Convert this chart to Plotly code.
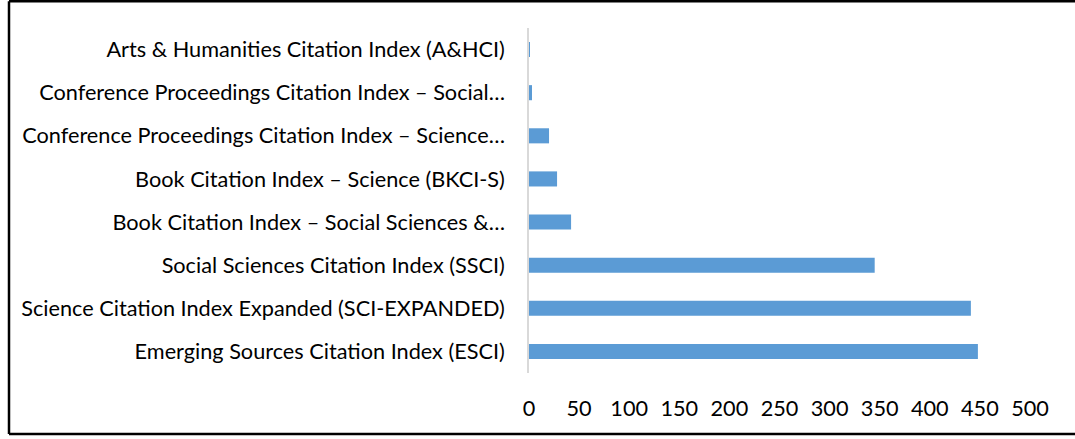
import plotly.graph_objects as go

categories = [
    "Emerging Sources Citation Index (ESCI)",
    "Science Citation Index Expanded (SCI-EXPANDED)",
    "Social Sciences Citation Index (SSCI)",
    "Book Citation Index – Social Sciences &…",
    "Book Citation Index – Science (BKCI-S)",
    "Conference Proceedings Citation Index – Science…",
    "Conference Proceedings Citation Index – Social…",
    "Arts & Humanities Citation Index (A&HCI)",
]
values = [448, 441, 345, 42, 28, 20, 3, 1]
x_ticks = [0, 50, 100, 150, 200, 250, 300, 350, 400, 450, 500]

FONT = "Lato"
FS = 21.7

fig = go.Figure(
    go.Bar(
        x=values,
        y=categories,
        orientation="h",
        marker=dict(color="#5B9BD5", line=dict(width=0)),
        hoverinfo="none",
    )
)

# figure slightly wider than the window so its right edge falls outside
L, R, T, B = 529, 65, 28, 66
W, H = 1095, 439
pw, ph = W - L - R, H - T - B

def px_x(x):
    return (x - L) / pw

def px_y(y):
    return (H - B - y) / ph

border = dict(color="#000000", width=2.5)
bx0, bx1 = px_x(9), px_x(1095)
by0, by1 = px_y(434), px_y(1.2)

fig.update_layout(
    width=W,
    height=H,
    margin=dict(l=L, r=R, t=T, b=B),
    paper_bgcolor="white",
    plot_bgcolor="white",
    bargap=0.65,
    showlegend=False,
    font=dict(family=FONT, size=FS, color="#000000"),
    xaxis=dict(
        range=[0, 500],
        tickvals=x_ticks,
        ticktext=[str(t) for t in x_ticks],
        showgrid=False,
        zeroline=False,
        showline=False,
        ticks="",
        ticklabelstandoff=20,
        tickfont=dict(family=FONT, size=FS, color="#000000"),
    ),
    yaxis=dict(
        showgrid=False,
        zeroline=False,
        showline=True,
        linecolor="#D9D9D9",
        linewidth=1.5,
        ticks="",
        ticklabelstandoff=18,
        tickfont=dict(family=FONT, size=FS, color="#000000"),
    ),
    shapes=[
        dict(type="line", xref="paper", yref="paper",
             x0=bx0, x1=bx0, y0=by0, y1=by1, line=border, layer="above"),
        dict(type="line", xref="paper", yref="paper",
             x0=bx0, x1=bx1, y0=by1, y1=by1, line=border, layer="above"),
        dict(type="line", xref="paper", yref="paper",
             x0=bx0, x1=bx1, y0=by0, y1=by0, line=border, layer="above"),
    ],
)

fig.write_html(
    "out.html",
    config={"displayModeBar": False},
    post_script=(
        "document.documentElement.style.overflow='hidden';"
        "document.body.style.margin='0';"
        "document.body.style.overflow='hidden';"
    ),
)
